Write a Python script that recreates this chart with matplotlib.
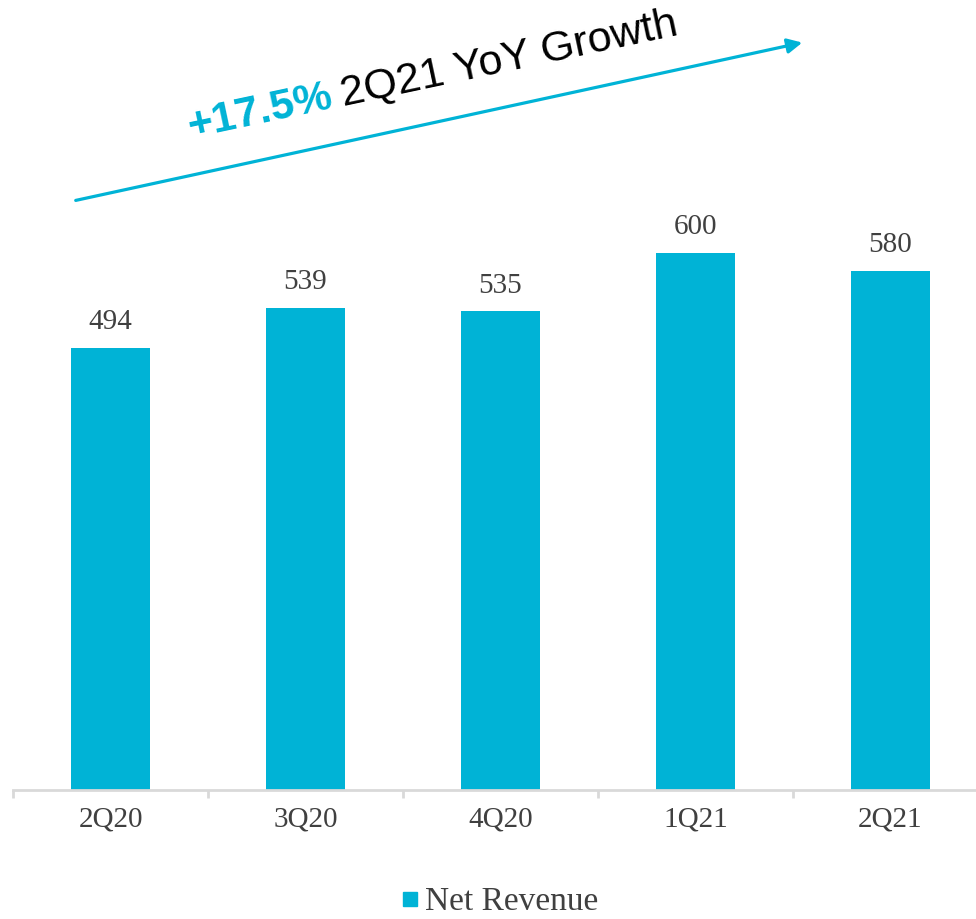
import matplotlib
matplotlib.use('Agg')
import matplotlib.pyplot as plt
import numpy as np
from matplotlib.patches import FancyArrowPatch
from matplotlib.lines import Line2D

# 数据
quarters = ['2Q20', '3Q20', '4Q20', '1Q21', '2Q21']
net_revenue = [494, 539, 535, 600, 580]
growth_pct = '+17.5%'
growth_text = '2Q21 YoY Growth'

bar_color = '#00B3D6'
label_color = '#404040'
axis_color = '#D9D9D9'

W, H = 976, 919
fig = plt.figure(figsize=(W / 100, H / 100), dpi=100)

# 坐标轴: 0 在 y=790 像素处
ax = fig.add_axes([13 / W, (H - 790) / H, 975 / W, 700 * 0.8947 / H])
x = np.arange(len(quarters))
bars = ax.bar(x, net_revenue, width=0.41, color=bar_color, zorder=2)
ax.set_xlim(-0.5, len(quarters) - 0.5)
ax.set_ylim(0, 700)

# 数值标签
for xi, v in zip(x, net_revenue):
    ax.annotate(str(v), (xi, v), xytext=(0, 13.5), textcoords='offset points',
                ha='center', va='baseline', fontsize=21,
                family='Liberation Serif', color=label_color)

# 轴线和刻度
for s in ['left', 'right', 'top']:
    ax.spines[s].set_visible(False)
ax.spines['bottom'].set_color(axis_color)
ax.spines['bottom'].set_linewidth(2)
ax.set_yticks([])
ax.set_xticks(x)
ax.set_xticklabels(quarters, fontsize=21, family='Liberation Serif', color=label_color)
ax.tick_params(axis='x', which='major', length=0, pad=12)
ax.set_xticks(np.arange(-0.5, len(quarters) + 0.5, 1), minor=True)
ax.tick_params(axis='x', which='minor', length=6, width=2, color=axis_color)

# 图例
handle = Line2D([], [], marker='s', linestyle='none', markersize=10,
                markerfacecolor=bar_color, markeredgecolor=bar_color)
fig.legend([handle], ['Net Revenue'], loc='center', bbox_to_anchor=(500 / W, 1 - 902 / H),
           frameon=False, handlelength=0.5, handletextpad=0.2,
           prop={'family': 'Liberation Serif', 'size': 24}, labelcolor=label_color)

# 增长箭头
arrow = FancyArrowPatch((73 / W, 1 - 201 / H), (805 / W, 1 - 42 / H),
                        transform=fig.transFigure, arrowstyle='-|>',
                        mutation_scale=22, color=bar_color, linewidth=2.3)
fig.add_artist(arrow)

angle = 12.0
fig.text(190 / W, 1 - 138 / H, growth_pct, rotation=angle, rotation_mode='anchor',
         ha='left', va='baseline', fontsize=31, fontweight='bold',
         family='Liberation Sans', color=bar_color)
fig.text(343 / W, 1 - 105 / H, growth_text, rotation=angle, rotation_mode='anchor',
         ha='left', va='baseline', fontsize=31,
         family='Liberation Sans', color='black')

fig.savefig('out.png', dpi=100)
